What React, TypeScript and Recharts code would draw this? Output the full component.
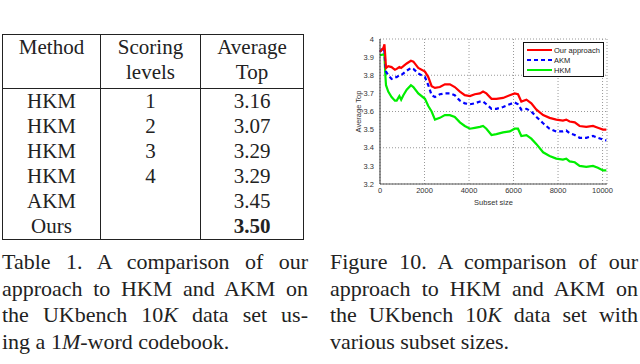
import React from "react";
import {
  LineChart,
  Line,
  XAxis,
  YAxis,
  CartesianGrid,
  Legend,
  Label,
} from "recharts";

// subset sizes (x) shared by the three curves
const subsetSizes = [
  0, 150, 200, 240, 270, 370, 520, 670, 750, 870, 950, 1050, 1200, 1390, 1500,
  1720, 2020, 2170, 2320, 2470, 2690, 2915, 3140, 3360, 3590, 3810, 4040, 4260,
  4490, 4630, 4780, 5010, 5230, 5530, 5830, 6050, 6200, 6350, 6580, 6800, 7030,
  7330, 7620, 7920, 8220, 8370, 8520, 8750, 8970, 9270, 9570, 9790, 10020, 10170,
];

const ourApproach = [
  3.93, 3.95, 3.97, 3.9, 3.84, 3.85, 3.845, 3.83, 3.835, 3.845, 3.84, 3.85, 3.865,
  3.88, 3.875, 3.84, 3.82, 3.79, 3.74, 3.73, 3.735, 3.75, 3.75, 3.735, 3.71, 3.69,
  3.685, 3.695, 3.7, 3.71, 3.7, 3.67, 3.67, 3.675, 3.69, 3.7, 3.695, 3.655, 3.665,
  3.645, 3.61, 3.58, 3.565, 3.555, 3.55, 3.555, 3.545, 3.54, 3.52, 3.515, 3.52,
  3.51, 3.5, 3.5,
];

const akm = [
  3.93, 3.95, 3.93, 3.86, 3.82, 3.8, 3.78, 3.79, 3.79, 3.8, 3.8, 3.81, 3.825, 3.84,
  3.835, 3.81, 3.79, 3.745, 3.69, 3.68, 3.695, 3.7, 3.7, 3.69, 3.66, 3.645, 3.64,
  3.645, 3.655, 3.655, 3.64, 3.615, 3.615, 3.625, 3.64, 3.65, 3.64, 3.61, 3.615,
  3.6, 3.57, 3.535, 3.505, 3.49, 3.49, 3.495, 3.48, 3.47, 3.455, 3.455, 3.465,
  3.455, 3.445, 3.44,
];

const hkm = [
  3.91, 3.915, 3.91, 3.8, 3.745, 3.71, 3.68, 3.66, 3.66, 3.685, 3.665, 3.69, 3.72,
  3.745, 3.735, 3.7, 3.67, 3.63, 3.6, 3.555, 3.565, 3.58, 3.58, 3.57, 3.54, 3.52,
  3.505, 3.51, 3.515, 3.52, 3.505, 3.47, 3.475, 3.485, 3.49, 3.505, 3.505, 3.465,
  3.47, 3.45, 3.42, 3.375, 3.355, 3.34, 3.335, 3.34, 3.325, 3.32, 3.3, 3.295, 3.3,
  3.29, 3.275, 3.275,
];

const xTicks = [0, 2000, 4000, 6000, 8000, 10000];
const yTicks = [3.2, 3.3, 3.4, 3.5, 3.6, 3.7, 3.8, 3.9, 4];

const tableMethods = ["HKM", "HKM", "HKM", "HKM", "AKM", "Ours"];
const tableLevels = ["1", "2", "3", "4", "", ""];
const tableTop = ["3.16", "3.07", "3.29", "3.29", "3.45", "3.50"];

const rows = subsetSizes.map((x, i) => ({
  x,
  ours: ourApproach[i],
  akm: akm[i],
  hkm: hkm[i],
}));

const legendItems = [
  { name: "Our approach", color: "#ff0000", dash: undefined },
  { name: "AKM", color: "#0000ff", dash: "4 3" },
  { name: "HKM", color: "#00ee00", dash: undefined },
];

const serif = "'Liberation Serif', 'Times New Roman', serif";
const sans = "'Liberation Sans', Arial, sans-serif";
const tickStyle = { fontSize: 7.5, fill: "#333", fontFamily: sans };

function ChartLegend() {
  return (
    <div
      style={{
        width: 79,
        height: 31,
        border: "1px solid #111",
        background: "#fff",
        fontFamily: sans,
        fontSize: 7.5,
        color: "#222",
        paddingTop: 2,
        boxSizing: "content-box",
      }}
    >
      {legendItems.map((it) => (
        <div key={it.name} style={{ display: "flex", alignItems: "center", height: 10 }}>
          <svg width={28} height={6} style={{ marginLeft: 2 }}>
            <line x1={1} y1={3} x2={26} y2={3} stroke={it.color} strokeWidth={2} strokeDasharray={it.dash} />
          </svg>
          <span>{it.name}</span>
        </div>
      ))}
    </div>
  );
}

function YLabel(props: any) {
  const vb = props.viewBox;
  const cx = vb.x + 8;
  const cy = vb.y + vb.height / 2;
  return (
    <text
      x={cx}
      y={cy}
      transform={`rotate(-90, ${cx}, ${cy})`}
      textAnchor="middle"
      dominantBaseline="central"
      style={tickStyle}
    >
      Average Top
    </text>
  );
}

function TopChart() {
  return (
    <LineChart width={290} height={213} data={rows} margin={{ top: 9, right: 13, bottom: 0, left: 20 }}>
      <CartesianGrid stroke="#999" strokeDasharray="1 2" />
      <XAxis
        type="number"
        dataKey="x"
        domain={[0, 10200]}
        ticks={xTicks}
        height={24}
        tickLine={false}
        tickSize={2}
        axisLine={{ stroke: "#555" }}
        tick={tickStyle}
      >
        <Label value="Subset size" position="insideBottom" offset={3} style={tickStyle} />
      </XAxis>
      <YAxis
        type="number"
        domain={[3.2, 4]}
        ticks={yTicks}
        width={30}
        tickLine={false}
        tickSize={4}
        axisLine={{ stroke: "#333" }}
        tick={tickStyle}
        tickFormatter={(v: number) => (Number.isInteger(v) ? String(v) : v.toFixed(1))}
      >
        <Label content={YLabel} />
      </YAxis>
      <Legend
        content={() => <ChartLegend />}
        wrapperStyle={{ position: "absolute", left: 193, top: 12, width: "auto" }}
      />
      <Line type="linear" dataKey="hkm" stroke="#00ee00" strokeWidth={2.2} dot={false} isAnimationActive={false} />
      <Line type="linear" dataKey="akm" stroke="#0000ff" strokeWidth={2.2} strokeDasharray="4 3" dot={false} isAnimationActive={false} />
      <Line type="linear" dataKey="ours" stroke="#ff0000" strokeWidth={2.2} dot={false} isAnimationActive={false} />
    </LineChart>
  );
}

const cell: React.CSSProperties = { textAlign: "center", padding: 0, lineHeight: "25px" };
const vline = "1.5px solid #222";

function ResultsTable() {
  return (
    <table
      style={{
        position: "absolute",
        left: 2,
        top: 34,
        borderCollapse: "collapse",
        border: vline,
        fontFamily: serif,
        fontSize: 21,
        color: "#222",
      }}
    >
      <thead>
        <tr style={{ height: 54 }}>
          <th style={{ ...cell, width: 97, fontWeight: 400, verticalAlign: "top", borderRight: vline, borderBottom: vline, paddingTop: 0 }}>
            Method
          </th>
          <th style={{ ...cell, width: 99, fontWeight: 400, verticalAlign: "top", borderRight: vline, borderBottom: vline, paddingTop: 0 }}>
            Scoring
            <br />
            levels
          </th>
          <th style={{ ...cell, width: 102, fontWeight: 400, verticalAlign: "top", borderBottom: vline, paddingTop: 0 }}>
            Average
            <br />
            Top
          </th>
        </tr>
      </thead>
      <tbody>
        {tableMethods.map((m, i) => (
          <tr key={i} style={{ height: 25 }}>
            <td style={{ ...cell, borderRight: vline }}>{m}</td>
            <td style={{ ...cell, borderRight: vline }}>{tableLevels[i]}</td>
            <td style={{ ...cell, fontWeight: i === tableTop.length - 1 ? 700 : 400 }}>{tableTop[i]}</td>
          </tr>
        ))}
      </tbody>
    </table>
  );
}

function CaptionLine({ children, last }: { children: React.ReactNode; last?: boolean }) {
  return (
    <div style={{ textAlign: last ? "left" : "justify", textAlignLast: last ? "left" : "justify", whiteSpace: "nowrap" }}>
      {children}
    </div>
  );
}

const captionStyle: React.CSSProperties = {
  position: "absolute",
  top: 249,
  fontFamily: serif,
  fontSize: 22,
  lineHeight: "26.5px",
  color: "#222",
};

export default function App() {
  return (
    <div style={{ position: "absolute", left: 0, top: 0, width: 640, height: 364, overflow: "hidden", background: "#fff" }}>
      <ResultsTable />
      <div style={{ position: "absolute", left: 330, top: 30 }}>
        <TopChart />
      </div>
      <div style={{ ...captionStyle, left: 2, width: 306 }}>
        <CaptionLine>Table 1. A comparison of our</CaptionLine>
        <CaptionLine>approach to HKM and AKM on</CaptionLine>
        <CaptionLine>
          the UKbench 10<i>K</i> data set us-
        </CaptionLine>
        <CaptionLine last>
          ing a 1<i>M</i>-word codebook.
        </CaptionLine>
      </div>
      <div style={{ ...captionStyle, left: 330, width: 308 }}>
        <CaptionLine>Figure 10. A comparison of our</CaptionLine>
        <CaptionLine>approach to HKM and AKM on</CaptionLine>
        <CaptionLine>
          the UKbench 10<i>K</i> data set with
        </CaptionLine>
        <CaptionLine last>various subset sizes.</CaptionLine>
      </div>
    </div>
  );
}
